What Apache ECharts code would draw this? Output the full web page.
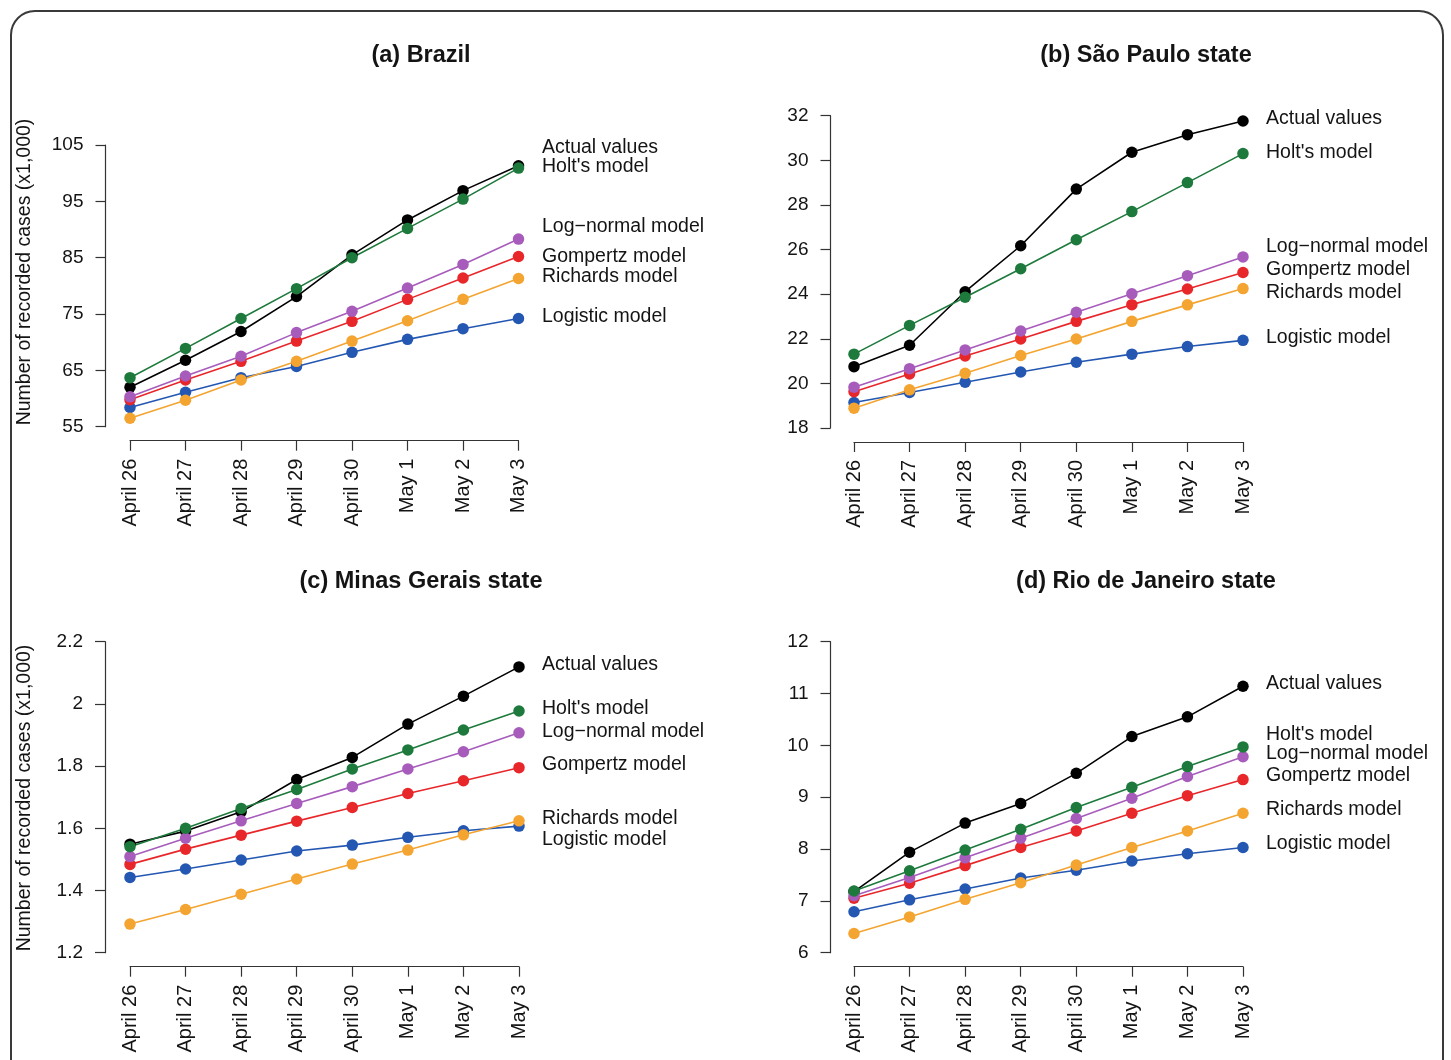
<!DOCTYPE html>
<html>
<head>
<meta charset="utf-8">
<script src="https://cdn.jsdelivr.net/npm/echarts@6/dist/echarts.min.js"></script>
<style>
html,body{margin:0;padding:0;background:#fff;}
#chart{width:1451px;height:1060px;}
</style>
</head>
<body>
<div id="chart"></div>
<script>
const dates = ['April 26','April 27','April 28','April 29','April 30','May 1','May 2','May 3'];
const modelNames = ['Actual values', "Holt's model", 'Log\u2212normal model', 'Gompertz model', 'Richards model', 'Logistic model'];

// (a) Brazil
const brazilActual    = [62.0, 66.8, 71.9, 78.1, 85.5, 91.7, 96.9, 101.3];
const brazilHolt      = [63.7, 68.9, 74.2, 79.5, 85.0, 90.2, 95.4, 100.9];
const brazilLogNormal = [60.3, 64.0, 67.5, 71.7, 75.5, 79.6, 83.8, 88.3];
const brazilGompertz  = [59.8, 63.3, 66.6, 70.2, 73.7, 77.6, 81.4, 85.2];
const brazilRichards  = [56.5, 59.7, 63.3, 66.6, 70.2, 73.8, 77.6, 81.3];
const brazilLogistic  = [58.4, 61.1, 63.7, 65.7, 68.2, 70.5, 72.4, 74.2];
const brazilTicks = [55, 65, 75, 85, 95, 105];

// (b) Sao Paulo
const spActual    = [20.75, 21.71, 24.11, 26.17, 28.71, 30.36, 31.15, 31.76];
const spHolt      = [21.31, 22.60, 23.86, 25.14, 26.44, 27.70, 29.00, 30.30];
const spLogNormal = [19.83, 20.66, 21.50, 22.35, 23.19, 24.02, 24.83, 25.67];
const spGompertz  = [19.63, 20.42, 21.23, 21.99, 22.78, 23.53, 24.23, 24.97];
const spRichards  = [18.89, 19.71, 20.45, 21.25, 21.99, 22.78, 23.52, 24.25];
const spLogistic  = [19.14, 19.59, 20.05, 20.51, 20.95, 21.31, 21.65, 21.93];
const spTicks = [18, 20, 22, 24, 26, 28, 30, 32];

// (c) Minas Gerais
const mgActual    = [1.549, 1.591, 1.653, 1.757, 1.828, 1.935, 2.025, 2.119];
const mgHolt      = [1.541, 1.600, 1.664, 1.725, 1.791, 1.852, 1.916, 1.977];
const mgLogNormal = [1.509, 1.568, 1.624, 1.680, 1.734, 1.791, 1.846, 1.907];
const mgGompertz  = [1.484, 1.533, 1.578, 1.623, 1.667, 1.712, 1.753, 1.795];
const mgRichards  = [1.292, 1.339, 1.388, 1.437, 1.485, 1.530, 1.579, 1.624];
const mgLogistic  = [1.442, 1.469, 1.498, 1.527, 1.546, 1.571, 1.592, 1.607];
const mgTicks = [1.2, 1.4, 1.6, 1.8, 2.0, 2.2];

// (d) Rio de Janeiro
const rjActual    = [7.18, 7.94, 8.50, 8.88, 9.46, 10.17, 10.55, 11.14];
const rjHolt      = [7.19, 7.58, 7.98, 8.38, 8.80, 9.19, 9.59, 9.97];
const rjLogNormal = [7.10, 7.45, 7.83, 8.21, 8.59, 8.98, 9.40, 9.78];
const rjGompertz  = [7.05, 7.34, 7.68, 8.03, 8.35, 8.69, 9.03, 9.34];
const rjRichards  = [6.37, 6.69, 7.03, 7.35, 7.69, 8.03, 8.35, 8.69];
const rjLogistic  = [6.79, 7.02, 7.23, 7.44, 7.59, 7.77, 7.91, 8.03];
const rjTicks = [6, 7, 8, 9, 10, 11, 12];

const panelTitles = ['(a) Brazil', '(b) S\u00e3o Paulo state', '(c) Minas Gerais state', '(d) Rio de Janeiro state'];
const yTitle = 'Number of recorded cases (x1,000)';

// ---------- layout / style ----------
const FONT = '"Liberation Sans", Arial, Helvetica, sans-serif';
const TXT = '#141414';
const colors = {
  actual: '#000000', holt: '#1e7a3c', lognormal: '#a75cbc',
  gompertz: '#e8272b', richards: '#f4a430', logistic: '#2357b2'
};

const panels = [
  { ticks: brazilTicks, data: {actual: brazilActual, holt: brazilHolt, lognormal: brazilLogNormal, gompertz: brazilGompertz, richards: brazilRichards, logistic: brazilLogistic},
    grid: {left: 130, top: 145, width: 388.5, height: 281.7}, yOff: 24.5,
    labelX: 542, labelY: {actual: 148, holt: 166.5, lognormal: 227, gompertz: 256.5, richards: 276.5, logistic: 316.5},
    title: {x: 421, y: 56}, yTitle: {x: 25, y: 272} },
  { ticks: spTicks, data: {actual: spActual, holt: spHolt, lognormal: spLogNormal, gompertz: spGompertz, richards: spRichards, logistic: spLogistic},
    grid: {left: 854, top: 115.7, width: 389, height: 312.3}, yOff: 23.5,
    labelX: 1266, labelY: {actual: 119, holt: 152.5, lognormal: 246.5, gompertz: 270, richards: 292.5, logistic: 337.5},
    title: {x: 1146, y: 56}, yTitle: null },
  { ticks: mgTicks, data: {actual: mgActual, holt: mgHolt, lognormal: mgLogNormal, gompertz: mgGompertz, richards: mgRichards, logistic: mgLogistic},
    grid: {left: 130, top: 641.7, width: 389, height: 311}, yOff: 25,
    labelX: 542, labelY: {actual: 665, holt: 709, lognormal: 731.5, gompertz: 765, richards: 819, logistic: 840},
    title: {x: 421, y: 582}, yTitle: {x: 25, y: 798} },
  { ticks: rjTicks, data: {actual: rjActual, holt: rjHolt, lognormal: rjLogNormal, gompertz: rjGompertz, richards: rjRichards, logistic: rjLogistic},
    grid: {left: 854, top: 641.7, width: 389, height: 311}, yOff: 23.5,
    labelX: 1266, labelY: {actual: 684, holt: 735, lognormal: 753.5, gompertz: 776, richards: 810, logistic: 843.5},
    title: {x: 1146, y: 582}, yTitle: null }
];

const keys = ['actual', 'holt', 'lognormal', 'gompertz', 'richards', 'logistic'];
const drawOrder = ['actual', 'logistic', 'richards', 'gompertz', 'lognormal', 'holt'];

const grids = [], xAxes = [], yAxes = [], series = [], graphics = [];

graphics.push({
  type: 'rect', z: 0,
  shape: {x: 11, y: 11, width: 1432, height: 1100, r: 24},
  style: {fill: 'none', stroke: '#3a3a3a', lineWidth: 2}
});

panels.forEach((p, i) => {
  grids.push(Object.assign({containLabel: false}, p.grid));
  xAxes.push({
    type: 'category', gridIndex: i, data: dates, boundaryGap: false,
    position: 'bottom', offset: 14,
    axisLine: {show: true, lineStyle: {color: '#333', width: 1.2}},
    axisTick: {show: true, length: 10, alignWithLabel: true, lineStyle: {color: '#333', width: 1.2}},
    axisLabel: {rotate: 90, margin: 18, fontSize: 20, color: TXT, fontFamily: FONT, interval: 0},
    splitLine: {show: false}
  });
  const t = p.ticks;
  yAxes.push({
    type: 'value', gridIndex: i, min: t[0], max: t[t.length - 1], interval: +(t[1] - t[0]).toFixed(6),
    position: 'left', offset: p.yOff,
    axisLine: {show: true, lineStyle: {color: '#333', width: 1.2}},
    axisTick: {show: true, length: 10, lineStyle: {color: '#333', width: 1.2}},
    axisLabel: {margin: 22, fontSize: 19, color: TXT, fontFamily: FONT,
      formatter: v => String(+v.toFixed(4))},
    splitLine: {show: false}
  });
  drawOrder.forEach(k => {
    series.push({
      type: 'line', name: modelNames[keys.indexOf(k)], xAxisIndex: i, yAxisIndex: i,
      data: p.data[k], clip: false, animation: false,
      symbol: 'circle', symbolSize: 11.5, showSymbol: true,
      lineStyle: {color: colors[k], width: 1.6},
      itemStyle: {color: colors[k]},
      emphasis: {disabled: true}
    });
  });
  graphics.push({
    type: 'text', z: 10,
    style: {text: panelTitles[i], x: p.title.x, y: p.title.y, textAlign: 'center', textVerticalAlign: 'middle',
      font: 'bold 23.5px ' + FONT, fill: TXT}
  });
  keys.forEach((k, j) => {
    graphics.push({
      type: 'text', z: 10,
      style: {text: modelNames[j], x: p.labelX, y: p.labelY[k], textAlign: 'left', textVerticalAlign: 'middle',
        font: '19.5px ' + FONT, fill: TXT}
    });
  });
  if (p.yTitle) {
    graphics.push({
      type: 'text', z: 10, x: p.yTitle.x, y: p.yTitle.y, rotation: Math.PI / 2,
      style: {text: yTitle, x: 0, y: 0, textAlign: 'center', textVerticalAlign: 'middle',
        font: '19.5px ' + FONT, fill: TXT}
    });
  }
});

const chart = echarts.init(document.getElementById('chart'), null, {renderer: 'canvas'});
chart.setOption({
  backgroundColor: '#ffffff',
  animation: false,
  grid: grids, xAxis: xAxes, yAxis: yAxes, series: series,
  graphic: graphics
});
</script>
</body>
</html>
